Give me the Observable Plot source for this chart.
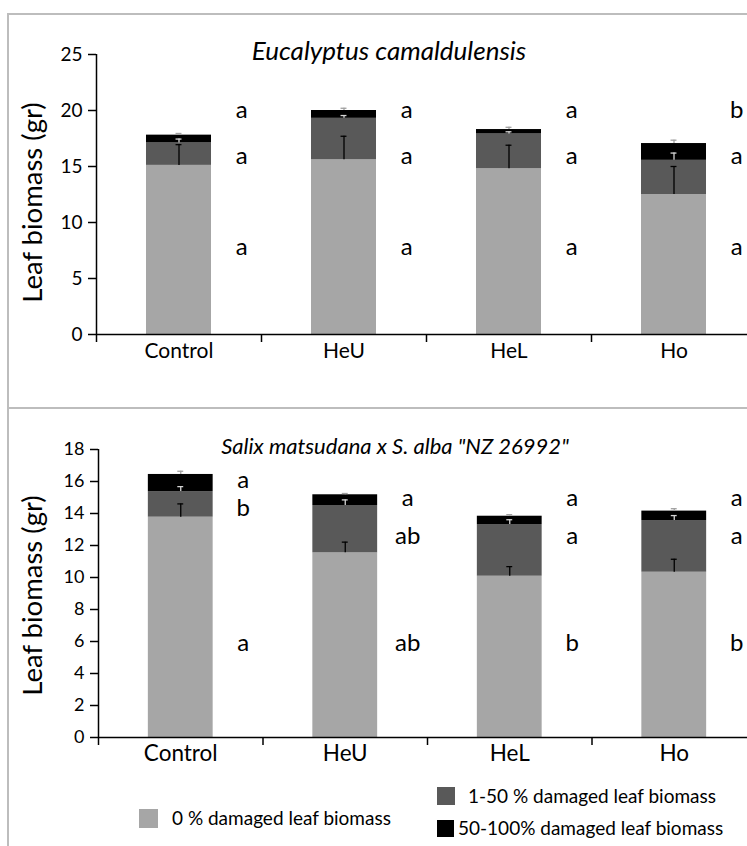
<!DOCTYPE html>
<html><head><meta charset="utf-8">
<script src="https://cdn.jsdelivr.net/npm/d3@7"></script>
<script src="https://cdn.jsdelivr.net/npm/@observablehq/plot@0.6"></script>
<style>
html,body{margin:0;padding:0;background:#fff;overflow:hidden;}
body{width:747px;height:846px;position:relative;font-family:Lato,"Open Sans",sans-serif;color:#000;}
.line{position:absolute;background:#bdbdbd;}
.panel{position:absolute;left:0;}
.sw{position:absolute;}
.lt{position:absolute;font-size:19px;line-height:22px;white-space:nowrap;}
</style></head>
<body>
<div class="line" style="left:7px;top:13px;width:2px;height:833px"></div>
<div class="line" style="left:7px;top:13px;width:740px;height:2px"></div>
<div class="line" style="left:7px;top:407px;width:740px;height:2px"></div>
<div id="top" class="panel" style="top:0"></div>
<div id="bottom" class="panel" style="top:408px"></div>
<div id="legend"></div>
<script>
const categories = ["Control", "HeU", "HeL", "Ho"];
const seriesNames = ["0 % damaged leaf biomass", "1-50 % damaged leaf biomass", "50-100% damaged leaf biomass"];
const seriesColors = ["#a6a6a6", "#595959", "#000000"];
const errColors = ["#000000", "#d4d4d4", "#a0a0a0"];

// Eucalyptus camaldulensis
const eucTitle = "Eucalyptus camaldulensis";
const euc0 = [15.1, 15.6, 14.8, 12.5];
const euc1 = [2.0, 3.7, 3.1, 3.05];
const euc2 = [0.7, 0.7, 0.4, 1.5];
const eucErr0 = [1.85, 2.1, 2.1, 2.5];
const eucErr1 = [0.35, 0.25, 0.2, 0.65];
const eucErr2 = [0.15, 0.2, 0.2, 0.3];
const eucLetters0 = ["a", "a", "a", "a"];
const eucLetters1 = ["a", "a", "a", "a"];
const eucLetters2 = ["a", "a", "a", "b"];
const eucLetterY0 = [7.8, 7.8, 7.8, 7.8];
const eucLetterY1 = [15.9, 15.9, 15.9, 15.9];
const eucLetterY2 = [20.0, 20.0, 20.0, 20.0];
const eucTicks = [0, 5, 10, 15, 20, 25];

// Salix matsudana x S. alba "NZ 26992"
const salTitle = "Salix matsudana x S. alba \"NZ 26992\"";
const sal0 = [13.77, 11.54, 10.08, 10.33];
const sal1 = [1.6, 2.96, 3.23, 3.23];
const sal2 = [1.07, 0.67, 0.52, 0.59];
const salErr0 = [0.83, 0.67, 0.6, 0.81];
const salErr1 = [0.31, 0.35, 0.3, 0.31];
const salErr2 = [0.2, 0.08, 0.1, 0.15];
const salLetters0 = ["a", "ab", "b", "b"];
const salLetters1 = ["b", "ab", "a", "a"];
const salLetters2 = ["a", "a", "a", "a"];
const salLetterY0 = [5.9, 5.9, 5.9, 5.9];
const salLetterY1 = [14.3, 12.6, 12.6, 12.6];
const salLetterY2 = [16.06, 14.94, 14.94, 14.94];
const salTicks = [0, 2, 4, 6, 8, 10, 12, 14, 16, 18];

const yLabel = "Leaf biomass (gr)";
const FONT = "Lato, 'Open Sans', sans-serif";
const BAR_HALF = 0.197;
const LETTER_OFF = 0.38;

function buildRows(vals, errs) {
  const rows = [];
  categories.forEach((c, i) => {
    let base = 0;
    vals.forEach((arr, s) => {
      const v = arr[i];
      rows.push({cat: c, i, series: seriesNames[s], s, y1: base, y2: base + v, err: errs[s][i]});
      base += v;
    });
  });
  return rows;
}
function buildLetters(letters, ys) {
  const out = [];
  categories.forEach((c, i) => {
    letters.forEach((arr, s) => out.push({i, label: arr[i], y: ys[s][i]}));
  });
  return out;
}

function panel(o) {
  const rows = buildRows(o.vals, o.errs);
  const letters = buildLetters(o.letters, o.letterYs);
  return Plot.plot({
    width: 747, height: o.height,
    marginTop: o.mt, marginBottom: o.mb, marginLeft: o.xr[0], marginRight: 0,
    style: {fontFamily: FONT, background: "transparent", overflow: "visible"},
    x: {domain: [0, 4], range: o.xr, axis: null},
    y: {domain: [0, o.ymax], axis: null},
    color: {domain: seriesNames, range: seriesColors},
    marks: [
      Plot.rect(rows, {x1: d => d.i + 0.5 - BAR_HALF, x2: d => d.i + 0.5 + BAR_HALF, y1: "y1", y2: "y2", fill: "series"}),
      Plot.ruleX(rows, {x: d => d.i + 0.5, y1: "y2", y2: d => d.y2 + d.err, stroke: d => errColors[d.s], strokeWidth: 1.3}),
      Plot.ruleY(rows, {y: d => d.y2 + d.err, x1: d => d.i + 0.5 - 0.018, x2: d => d.i + 0.5 + 0.018, stroke: d => errColors[d.s], strokeWidth: 1.3}),
      Plot.axisY({ticks: o.ticks, tickSize: 8, tickPadding: 6, fontSize: o.tickFont, stroke: "#000", strokeWidth: 1.5}),
      Plot.axisX({ticks: [0, 1, 2, 3, 4], tickFormat: () => "", tickSize: 8, stroke: "#000", strokeWidth: 1.5}),
      Plot.ruleX([0], {stroke: "#000", strokeWidth: 1.5}),
      Plot.ruleY([0], {stroke: "#000", strokeWidth: 1.5}),
      Plot.text(categories, {x: (d, i) => i + 0.5, frameAnchor: "bottom", dy: 23, fontSize: o.catFont, fill: "#000"}),
      Plot.text(letters, {x: d => d.i + 0.5 + LETTER_OFF, y: "y", text: "label", fontSize: o.letterFont, fill: "#000"}),
      Plot.text([o.title], {frameAnchor: "top", dx: o.titleDx, dy: o.titleDy, fontSize: o.titleFont, fontStyle: "italic", fill: "#000"}),
      Plot.text([yLabel], {frameAnchor: "left", textAnchor: "middle", dx: o.ylDx, dy: o.ylDy, rotate: -90, fontSize: 27.5, fill: "#000"})
    ]
  });
}

document.getElementById("top").appendChild(panel({
  vals: [euc0, euc1, euc2], errs: [eucErr0, eucErr1, eucErr2],
  letters: [eucLetters0, eucLetters1, eucLetters2], letterYs: [eucLetterY0, eucLetterY1, eucLetterY2],
  height: 408, mt: 54, mb: 74, xr: [96, 756], ymax: 25, ticks: eucTicks,
  tickFont: 19, catFont: 21, letterFont: 24, title: eucTitle, titleFont: 26, titleDx: -33, titleDy: -13, ylDx: -63, ylDy: 8
}));
document.getElementById("bottom").appendChild(panel({
  vals: [sal0, sal1, sal2], errs: [salErr0, salErr1, salErr2],
  letters: [salLetters0, salLetters1, salLetters2], letterYs: [salLetterY0, salLetterY1, salLetterY2],
  height: 438, mt: 41, mb: 109, xr: [98, 756], ymax: 18, ticks: salTicks,
  tickFont: 18, catFont: 22.5, letterFont: 24, title: salTitle, titleFont: 22, titleDx: -28, titleDy: -11, ylDx: -65, ylDy: 2
}));

// legend
const legendItems = [
  {s: 0, sx: 139, sy: 809, size: 19, tx: 172, ty: 807},
  {s: 1, sx: 437, sy: 787, size: 18, tx: 468, ty: 785},
  {s: 2, sx: 437, sy: 820, size: 17, tx: 458, ty: 817}
];
const leg = document.getElementById("legend");
legendItems.forEach(it => {
  const sw = document.createElement("div");
  sw.className = "sw";
  sw.style.cssText = `left:${it.sx}px;top:${it.sy}px;width:${it.size}px;height:${it.size}px;background:${seriesColors[it.s]}`;
  leg.appendChild(sw);
  const t = document.createElement("div");
  t.className = "lt";
  t.style.cssText = `left:${it.tx}px;top:${it.ty}px;`;
  t.textContent = seriesNames[it.s];
  leg.appendChild(t);
});
</script>
</body></html>
